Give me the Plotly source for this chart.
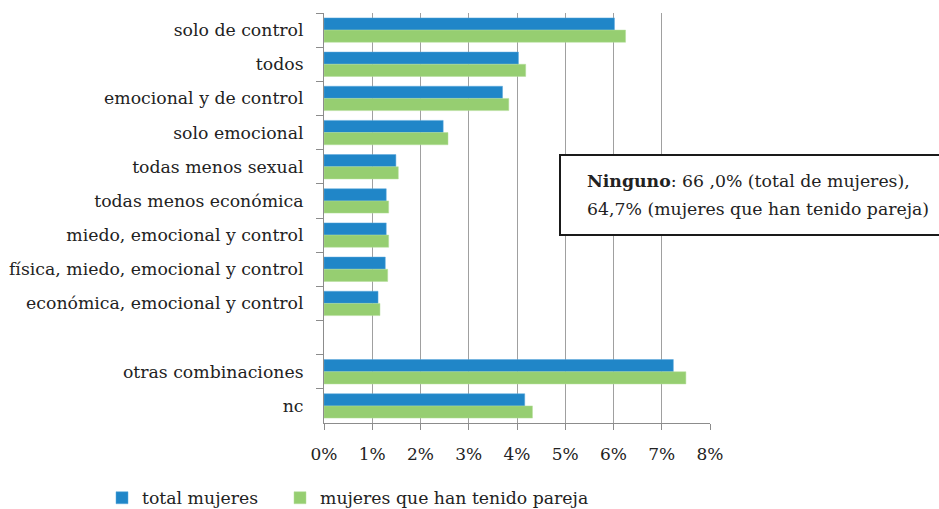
import plotly.graph_objects as go

categories = [
    "solo de control", "todos", "emocional y de control", "solo emocional",
    "todas menos sexual", "todas menos económica", "miedo, emocional y control",
    "física, miedo, emocional y control", "económica, emocional y control",
    " ", "otras combinaciones", "nc",
]
total_mujeres = [6.02, 4.03, 3.70, 2.47, 1.49, 1.29, 1.29, 1.27, 1.12, None, 7.24, 4.16]
mujeres_pareja = [6.25, 4.18, 3.83, 2.57, 1.54, 1.34, 1.34, 1.32, 1.16, None, 7.50, 4.32]
x_ticks = [0, 1, 2, 3, 4, 5, 6, 7, 8]
x_tick_labels = ["0%", "1%", "2%", "3%", "4%", "5%", "6%", "7%", "8%"]

FONT = "DejaVu Serif"
FS = 17.3
TXT = "#222222"
W, H = 939, 509
AX_L, AX_R, AX_T, AX_B = 324, 710, 13, 423
L, R, T, B = AX_L, W - AX_R, AX_T, H - AX_B
PW, PH = AX_R - AX_L, AX_B - AX_T

def px_x(x):
    return (x - AX_L) / PW

def px_y(y):
    return (AX_B - y) / PH

fig = go.Figure()
fig.add_trace(go.Bar(
    y=categories, x=total_mujeres, orientation="h", name="total mujeres",
    marker=dict(color="#2086C8", line=dict(color="#5AA9DC", width=0.5)),
    legend="legend",
))
fig.add_trace(go.Bar(
    y=categories, x=mujeres_pareja, orientation="h", name="mujeres que han tenido pareja",
    marker=dict(color="#96CE71", line=dict(color="#B5DE9A", width=0.5)),
    legend="legend2",
))

leg_common = dict(
    orientation="h", xanchor="left", yanchor="middle",
    font=dict(family=FONT, size=FS, color=TXT),
    bgcolor="rgba(0,0,0,0)", borderwidth=0,
)

fig.update_layout(
    width=W, height=H,
    margin=dict(l=L, r=R, t=T, b=B, pad=0, autoexpand=False),
    paper_bgcolor="white", plot_bgcolor="white",
    barmode="group", bargap=0.287, bargroupgap=0,
    font=dict(family=FONT, size=FS, color=TXT),
    showlegend=True,
    legend=dict(x=px_x(102), y=px_y(498), **leg_common),
    legend2=dict(x=px_x(280), y=px_y(498), **leg_common),
    xaxis=dict(
        range=[0, 8], tickvals=x_ticks, ticktext=x_tick_labels,
        showgrid=True, gridcolor="#A0A0A0", gridwidth=1,
        showline=True, linecolor="#8C8C8C", linewidth=1,
        ticks="outside", ticklen=6, tickcolor="#8C8C8C",
        ticklabelstandoff=10, zeroline=False,
        tickfont=dict(family=FONT, size=17, color=TXT),
    ),
    yaxis=dict(
        categoryorder="array", categoryarray=categories, autorange="reversed",
        showline=True, linecolor="#8C8C8C", linewidth=1,
        ticks="outside", ticklen=7, tickcolor="#8C8C8C", tickson="boundaries",
        ticklabelstandoff=16, showgrid=False,
        tickfont=dict(family=FONT, size=FS, color=TXT),
    ),
    shapes=[dict(
        type="rect", xref="paper", yref="paper",
        x0=px_x(560), x1=px_x(960), y0=px_y(235), y1=px_y(155),
        line=dict(color="#1A1A1A", width=2), fillcolor="white", layer="above",
    )],
    annotations=[
        dict(xref="paper", yref="paper", x=px_x(585), y=px_y(181), xanchor="left", yanchor="middle",
             text="<b>Ninguno</b>: 66 ,0% (total de mujeres),", showarrow=False,
             font=dict(family=FONT, size=FS, color=TXT)),
        dict(xref="paper", yref="paper", x=px_x(585), y=px_y(209), xanchor="left", yanchor="middle",
             text="64,7% (mujeres que han tenido pareja)", showarrow=False,
             font=dict(family=FONT, size=FS, color=TXT)),
    ],
)

fig.write_html(
    "out.html",
    config={"displayModeBar": False},
    post_script="document.body.style.margin='0';",
)
